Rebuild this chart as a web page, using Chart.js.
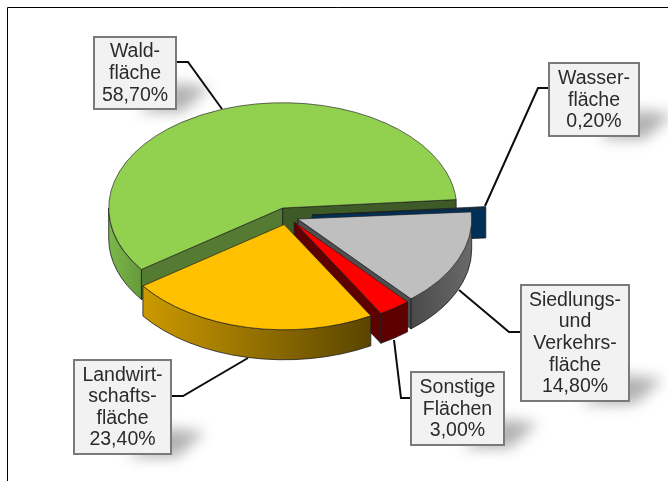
<!DOCTYPE html>
<html lang="de">
<head>
<meta charset="utf-8">
<style>html,body{margin:0;padding:0;background:#fff}canvas{display:block}</style>
<script src="https://cdn.jsdelivr.net/npm/chart.js@4"></script>
</head>
<body>
<canvas id="c" width="668" height="481"></canvas>
<script>
// Data
const categories = ["Waldfläche","Wasserfläche","Siedlungs- und Verkehrsfläche","Sonstige Flächen","Landwirtschaftsfläche"];
const shares = [58.7, 0.2, 14.8, 3.0, 23.4];
const labelLines = [["Wald-","fläche"],["Wasser-","fläche"],["Siedlungs-","und","Verkehrs-","fläche"],["Sonstige","Flächen"],["Landwirt-","schafts-","fläche"]];

// Style
const topColors = ["#92d050","#0a3a63","#bfbfbf","#ff0000","#ffc000"];
const startWall = ["#557a32","#003057","#4d4d4d","#5e0000","#5e4800"];
const endWall = ["#3e5a27","#003057","#4f4f4f","#5e0000","#5e4800"];
const outerWall = [["#7cb84a","#66993b"],["#003057","#003057"],["#4a4a4a","#6a6a6a"],["#5e0000","#5e0000"],["#cc9a00","#5a4500"]];
const explodeX = [0, 29.5, 15, 11.5, 1.5];
const explodeY = [0, 7, 11, 14, 16.5];
const tilt = 0.605, depth = 30, edge = "#1c1c1c";
const boxes = [[94,37,82,72],[549,63,90,73],[521,285,108,116],[411,372,93,73],[74,360,97,94]];
const leaders = [
  [[176,62],[188,62],[222,109]],
  [[548,88],[538,88],[485,206]],
  [[520,332],[509,332],[459,290]],
  [[411,398],[401,398],[394,340]],
  [[171,396],[183,396],[248,358]]
];

const fmt = v => v.toFixed(2).replace(".", ",") + "%";

function drawShadow(ctx, b) {
  const [x, y, w, h] = b;
  ctx.save();
  ctx.filter = "blur(7px)";
  ctx.fillStyle = "rgba(0,0,0,0.30)";
  ctx.beginPath();
  ctx.moveTo(x + w * 0.55, y + h + 3);
  ctx.lineTo(x + w - 4, y + h - 26);
  ctx.lineTo(x + w + 34, y + h - 22);
  ctx.lineTo(x + w + 6, y + h + 3);
  ctx.closePath();
  ctx.fill();
  ctx.restore();
}

const pie3d = {
  id: "pie3d",
  beforeDatasetsDraw(chart) {
    const ctx = chart.ctx;
    const arcs = chart.getDatasetMeta(0).data;
    const order = [0, 1, 2, 3, 4];
    for (const i of order) {
      const a = arcs[i];
      const r = a.outerRadius, s = a.startAngle, e = a.endAngle;
      const ax = a.x + explodeX[i], ay = a.y + explodeY[i];
      const px = t => ax + r * Math.cos(t), py = t => ay + r * tilt * Math.sin(t);
      ctx.save();
      ctx.lineWidth = 0.8;
      ctx.strokeStyle = edge;
      const radial = (t, col) => {
        ctx.beginPath();
        ctx.moveTo(ax, ay);
        ctx.lineTo(px(t), py(t));
        ctx.lineTo(px(t), py(t) + depth);
        ctx.lineTo(ax, ay + depth);
        ctx.closePath();
        ctx.fillStyle = col;
        ctx.fill();
        ctx.stroke();
      };
      if (Math.sin(s - Math.PI / 2) > 0) radial(s, startWall[i]);
      if (Math.sin(e + Math.PI / 2) > 0) radial(e, endWall[i]);
      for (let k = -1; k < 3; k++) {
        const lo = Math.max(s, 2 * Math.PI * k), hi = Math.min(e, 2 * Math.PI * k + Math.PI);
        if (hi <= lo) continue;
        const g = ctx.createLinearGradient(px(hi), 0, px(lo), 0);
        g.addColorStop(0, outerWall[i][0]);
        g.addColorStop(1, outerWall[i][1]);
        ctx.beginPath();
        ctx.ellipse(ax, ay, r, r * tilt, 0, lo, hi);
        ctx.ellipse(ax, ay + depth, r, r * tilt, 0, hi, lo, true);
        ctx.closePath();
        ctx.fillStyle = g;
        ctx.fill();
        ctx.stroke();
      }
      ctx.restore();
      // top face: the library's own arc element, seen through the tilt
      ctx.save();
      ctx.translate(ax, ay);
      ctx.scale(1, tilt);
      ctx.translate(-a.x, -a.y);
      a.draw(ctx);
      ctx.restore();
    }
    return false;
  },
  afterDraw(chart) {
    const ctx = chart.ctx;
    ctx.save();
    // frame
    ctx.strokeStyle = "#000";
    ctx.lineWidth = 1;
    ctx.beginPath();
    ctx.moveTo(7.5, 481);
    ctx.lineTo(7.5, 7.5);
    ctx.lineTo(668, 7.5);
    ctx.stroke();
    // leaders
    ctx.lineWidth = 2;
    ctx.strokeStyle = "#0d0d0d";
    for (const pts of leaders) {
      ctx.beginPath();
      pts.forEach((p, j) => j ? ctx.lineTo(p[0], p[1]) : ctx.moveTo(p[0], p[1]));
      ctx.stroke();
    }
    // callouts
    boxes.forEach((b, i) => {
      drawShadow(ctx, b);
      ctx.fillStyle = "#f2f2f2";
      ctx.fillRect(b[0], b[1], b[2], b[3]);
      ctx.strokeStyle = "#7a7a7a";
      ctx.lineWidth = 2;
      ctx.strokeRect(b[0], b[1], b[2], b[3]);
      const lines = labelLines[i].concat(fmt(shares[i]));
      const lh = 21.6;
      ctx.fillStyle = "#2b2b2b";
      ctx.font = '19.5px "Liberation Sans", Arial, sans-serif';
      ctx.textAlign = "center";
      ctx.textBaseline = "alphabetic";
      const cx = b[0] + b[2] / 2;
      const y0 = b[1] + b[3] / 2 - lh * lines.length / 2 + lh * 0.78;
      lines.forEach((t, j) => ctx.fillText(t, cx, y0 + j * lh));
    });
    ctx.restore();
  }
};

new Chart(document.getElementById("c"), {
  type: "pie",
  data: {
    labels: categories,
    datasets: [{
      data: shares,
      backgroundColor: topColors,
      borderColor: edge,
      borderWidth: 0.8,
      radius: 174
    }]
  },
  options: {
    responsive: false,
    animation: false,
    rotation: 234.3,
    layout: { padding: { left: 0, top: 0, right: 102.6, bottom: 65 } },
    plugins: { legend: { display: false }, tooltip: { enabled: false } }
  },
  plugins: [pie3d]
});
</script>
</body>
</html>
